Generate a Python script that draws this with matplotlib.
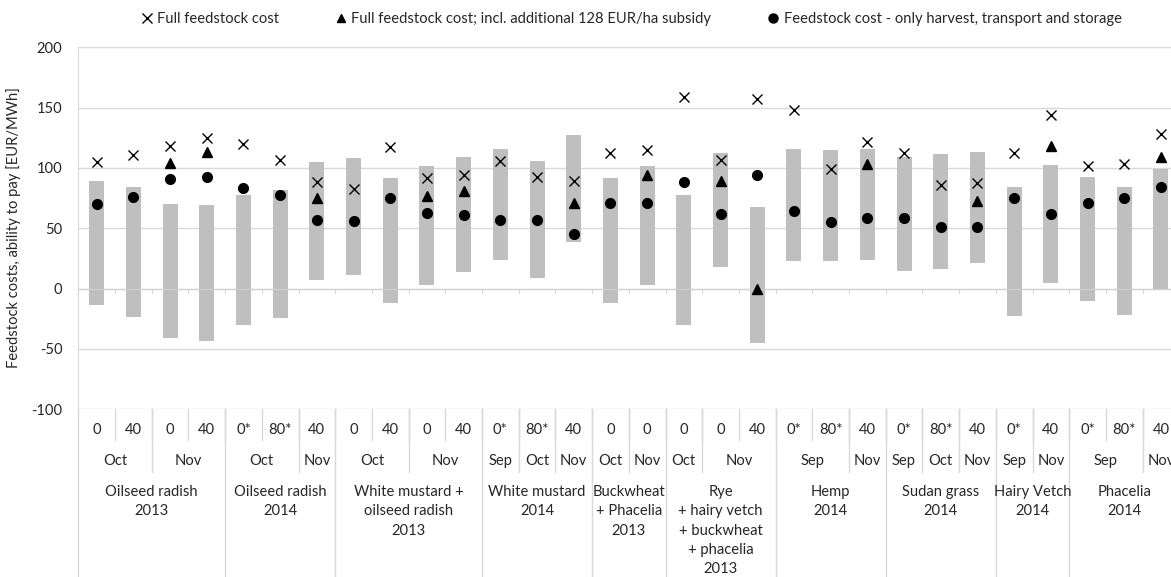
import numpy as np
import matplotlib
matplotlib.use("Agg")
import matplotlib.pyplot as plt
from matplotlib.lines import Line2D
from matplotlib.transforms import blended_transform_factory

plt.rcParams['font.family'] = ['Lato', 'DejaVu Sans']
plt.rcParams['font.size'] = 10.6
plt.rcParams['axes.unicode_minus'] = False

# Ability to pay (range) and feedstock cost scenarios, EUR/MWh
ability_low = [-13.5, -23.5, -40.5, -43.5, -30, -24.5, 7, 11, -11.5, 3,
               13.5, 23.5, 8.5, 39, -11.5, 3, -30, 18, -45, 22.5,
               22.5, 23.5, 14.5, 16.5, 21.5, -22.5, 4.5, -10, -21.5, -1]
ability_high = [89.5, 84, 70.5, 69.5, 78, 81.5, 105, 108.5, 92, 101.5,
                109.5, 116, 106, 127, 91.5, 101.5, 78, 112.5, 68, 116,
                115, 116, 109.5, 111.5, 113.5, 84, 102.5, 92.5, 84, 99.5]
full_cost = [105, 110.5, 118, 125, 120, 107, 88, 82.5, 117.5, 91.5,
             94.5, 105.5, 92.5, 89, 112.5, 115, 159, 107, 157, 148,
             99, 121.5, 112.5, 85.5, 87.5, 112.5, 143.5, 102, 103.5, 128]
nan = np.nan
full_cost_subsidy = [nan, nan, 104, 113, nan, nan, 75.5, nan, nan, 77,
                     81, nan, nan, 71, nan, 94, nan, 89, 0, nan,
                     nan, 103, nan, nan, 73, nan, 118, nan, nan, 109]
harvest_cost = [70, 76, 90.5, 92.5, 83.5, 78, 57, 56, 75, 63,
                61, 57, 57, 45.5, 71, 71, 88, 62, 94.5, 64.5,
                55.5, 58.5, 58.5, 51, 51, 75.5, 62, 71, 75.5, 84]

# Multi-level category labels
fertilizer = ['0', '40', '0', '40', '0*', '80*', '40', '0', '40', '0',
              '40', '0*', '80*', '40', '0', '0', '0', '0', '40', '0*',
              '80*', '40', '0*', '80*', '40', '0*', '40', '0*', '80*', '40']
harvest_month = ['Oct', 'Oct', 'Nov', 'Nov', 'Oct', 'Oct', 'Nov', 'Oct', 'Oct', 'Nov',
                 'Nov', 'Sep', 'Oct', 'Nov', 'Oct', 'Nov', 'Oct', 'Nov', 'Nov', 'Sep',
                 'Sep', 'Nov', 'Sep', 'Oct', 'Nov', 'Sep', 'Nov', 'Sep', 'Sep', 'Nov']
crop_groups = ['Oilseed radish\n2013', 'Oilseed radish\n2014',
               'White mustard +\noilseed radish\n2013', 'White mustard\n2014',
               'Buckwheat\n+ Phacelia\n2013',
               'Rye\n+ hairy vetch\n+ buckwheat\n+ phacelia\n2013',
               'Hemp\n2014', 'Sudan grass\n2014', 'Hairy Vetch\n2014', 'Phacelia\n2014']
group_sizes = [4, 3, 4, 3, 2, 3, 3, 3, 2, 3]

W, H = 1171, 577
fig = plt.figure(figsize=(W / 100, H / 100), dpi=100)
ax = fig.add_axes([78.3 / W, 1 - 409.3 / H, 1101 / W, 362 / H])

x = np.arange(len(full_cost))
low = np.array(ability_low)
high = np.array(ability_high)

ax.bar(x, high - low, bottom=low, width=0.41, color='#bfbfbf', zorder=2)
ax.plot(x, full_cost, ls='none', marker='x', ms=6.5, mew=1.0, color='black', zorder=3)
ax.plot(x, full_cost_subsidy, ls='none', marker='^', ms=6.8, color='black', zorder=3)
ax.plot(x, harvest_cost, ls='none', marker='o', ms=7, color='black', zorder=3)

grid_col = '#d9d9d9'
text_col = '#262626'
ax.set_xlim(-0.5, len(x) - 0.5)
ax.set_ylim(-100, 200)
ax.set_yticks(range(-100, 201, 50))
ax.yaxis.grid(True, color=grid_col, lw=1.0, zorder=0)
ax.set_axisbelow(True)
for s in ['top', 'right']:
    ax.spines[s].set_visible(False)
ax.spines['left'].set_color(grid_col)
ax.spines['bottom'].set_position(('data', 0))
ax.spines['bottom'].set_color('#d0d0d0')
ax.set_xticks(np.arange(-0.5, len(x), 1))
ax.tick_params(axis='x', direction='out', length=3.5, color=grid_col, labelbottom=False)
ax.tick_params(axis='y', length=0, pad=11.5, labelcolor=text_col)

# category table under the plot
trans = blended_transform_factory(ax.transData, fig.transFigure)
def fy(py):
    return 1 - py / H

def sep(xpos, y_end):
    ax.plot([xpos, xpos], [fy(409.3), fy(y_end)], transform=trans, color=grid_col,
            lw=1.0, clip_on=False)

for i, lab in enumerate(fertilizer):
    ax.text(i, fy(430), lab, transform=trans, ha='center', va='center', color=text_col)
    if i > 0:
        sep(i - 0.5, 440)

start = 0
for name, size in zip(crop_groups, group_sizes):
    end = start + size
    # month runs inside the group
    j = start
    while j < end:
        k = j
        while k + 1 < end and harvest_month[k + 1] == harvest_month[j]:
            k += 1
        ax.text((j + k) / 2, fy(461), harvest_month[j], transform=trans,
                ha='center', va='center', color=text_col)
        if j > start:
            sep(j - 0.5, 472)
        j = k + 1
    for n, line in enumerate(name.split('\n')):
        ax.text((start + end - 1) / 2, fy(492 + 19.3 * n), line, transform=trans,
                ha='center', va='center', color=text_col)
    sep(start - 0.5, H)
    start = end
sep(len(x) - 0.5, H)

fig.text(14 / W, fy(228), 'Feedstock costs, ability to pay [EUR/MWh]', rotation=90,
         ha='center', va='center', color=text_col)

handles = [
    Line2D([], [], ls='none', marker='x', ms=6.5, mew=1.0, color='black'),
    Line2D([], [], ls='none', marker='^', ms=5.5, color='black'),
    Line2D([], [], ls='none', marker='o', ms=6.5, color='black'),
]
labels = ['Full feedstock cost',
          'Full feedstock cost; incl. additional 128 EUR/ha subsidy',
          'Feedstock cost - only harvest, transport and storage']
leg = fig.legend(handles, labels, loc='center left', bbox_to_anchor=(141 / W, fy(19)),
                 ncol=3, frameon=False, borderpad=0, borderaxespad=0,
                 handlelength=0.8, handletextpad=0.3, columnspacing=3.8)
for t in leg.get_texts():
    t.set_color(text_col)

fig.savefig('out.png', dpi=100)
